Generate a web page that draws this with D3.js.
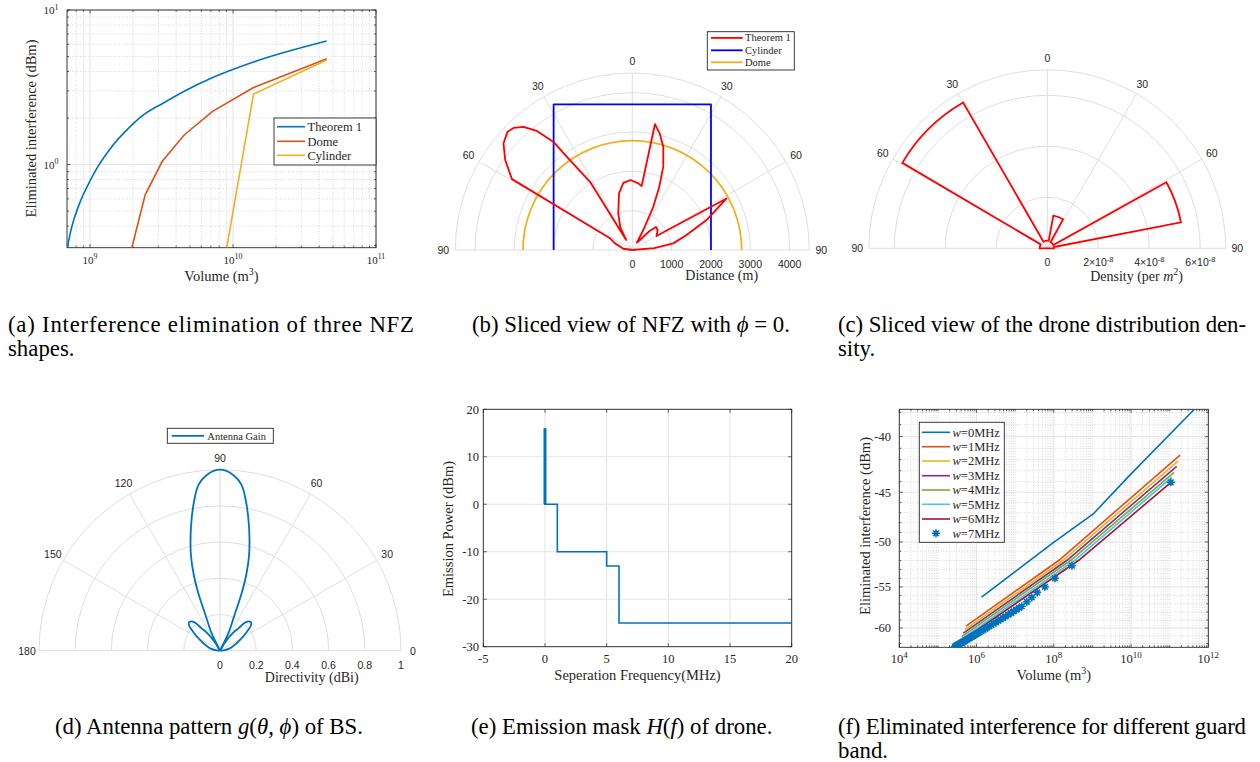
<!DOCTYPE html>
<html>
<head>
<meta charset="utf-8">
<script src="https://cdn.jsdelivr.net/npm/d3@7"></script>
<style>
  body { margin: 0; background: #fff; }
  text { font-family: 'Liberation Serif', 'Times New Roman', serif; fill: #262626; }
  text.sans { font-family: 'Liberation Sans', Arial, sans-serif; }
  text.cap { fill: #000; }
</style>
</head>
<body>
<svg id="fig" width="1260" height="762" font-family="Liberation Serif"></svg>
<script>
// ---------------- data ----------------
// (a) interference elimination of three NFZ shapes
const aThmVol = [6.93e8, 7.42e8, 8.37e8, 1e9, 1.11e9, 1.38e9, 1.9e9, 2.36e9, 3.26e9, 4.74e9, 7.28e9, 1.39e10, 4.52e10];
const aThmVal = [0.29, 0.39, 0.549, 0.784, 0.938, 1.263, 1.753, 2.096, 2.505, 3.04, 3.67, 4.61, 6.3];
const aDomeVol = [1.96e9, 2.43e9, 3.2e9, 4.57e9, 7.16e9, 1.39e10, 4.52e10];
const aDomeVal = [0.29, 0.637, 1.05, 1.56, 2.2, 3.15, 4.84];
const aCylVol = [9.04e9, 1.39e10, 4.52e10];
const aCylVal = [0.29, 2.86, 4.75];
const aXTicks = [1e9, 1e10, 1e11];
const aYTicks = [1, 10];

// (b) sliced view of NFZ, theta from zenith (deg), distance (m)
const bThmTheta = [-90, -82, -69, -62.4, -59.5, -54.7, -50.4, -46.6, -44.2, -41.5, -38.7, -36.1, -35.1, -31.8, -31.3, -28,
  -20.9, -13.2, -7.6, -1.4, 5.1, 8.3, 10.2, 13.3, 16.7, 20.4, 23.1, 25.9, 28.8, 32, 37.5, 42.4, 46, 51.7, 60.1, 61.3,
  63.2, 68, 74.6, 80.8, 85, 90];
const bThmR = [0, 230, 470, 640, 3550, 3960, 4250, 4370, 4330, 4180, 3880, 3400, 2900, 2040, 300, 650,
  1000, 1480, 1720, 1780, 1700, 1640, 3250, 3040, 2740, 2260, 1750, 1220, 580, 220, 320, 665, 840, 820, 710, 2730,
  2490, 2035, 1430, 1054, 560, 0];
const bCylTheta = [-90, -28.4, 28.4, 90];
const bCylR = [2000, 4206, 4206, 2000];
const bDomeR = 2780;
const bRTicks = [0, 1000, 2000, 3000, 4000];
const bThetaTicks = [-90, -60, -30, 0, 30, 60, 90];

// (c) drone distribution density (stairs histogram)
const cEdges = [-90, -59.5, -30, 10.5, 28.5, 61, 79, 90];
const cDens = [3.0e-9, 6.6e-8, 3.0e-9, 1.3e-8, 2.7e-9, 5.34e-8, 2.6e-9];
const cRTicks = [0, 2e-8, 4e-8, 6e-8];

// (d) antenna pattern
const dTheta = [0, 5, 13, 20, 28.1, 36.2, 40, 43.5, 47.4, 50.6, 54, 58, 62,
  64.4, 68, 69.3, 71, 73.2, 76.7, 79.7, 82.6, 85.7, 90,
  94.3, 97.4, 100.3, 103.3, 106.8, 109, 110.7, 112, 115.6, 118,
  122, 126, 129.4, 132.6, 136.5, 140, 143.8, 151.9, 160, 167, 175, 180];
const dGain = [0, 0.02, 0.056, 0.08, 0.124, 0.192, 0.225, 0.232, 0.216, 0.16, 0.12, 0.06, 0,
  0.105, 0.22, 0.336, 0.448, 0.557, 0.698, 0.82, 0.924, 0.974, 1.0,
  0.974, 0.924, 0.82, 0.698, 0.557, 0.448, 0.336, 0.22, 0.105, 0,
  0.06, 0.12, 0.16, 0.216, 0.232, 0.225, 0.192, 0.124, 0.08, 0.056, 0.02, 0];
const dRTicks = [0, 0.2, 0.4, 0.6, 0.8, 1];
const dThetaTicks = [0, 30, 60, 90, 120, 150, 180];

// (e) emission mask
const eFreq = [0, 0, 1, 1, 5, 5, 6, 6, 20];
const ePow = [16, 0, 0, -10, -10, -13, -13, -25, -25];
const eXTicks = [-5, 0, 5, 10, 15, 20];
const eYTicks = [20, 10, 0, -10, -20, -30];

// (f) eliminated interference for different guard bands
const fNames = ["0", "1", "2", "3", "4", "5", "6", "7"];
const fVol = [
  [1.35e6, 9.7e7, 1.05e9, 9.3e9, 4.3e11],
  [5.33e5, 1.39e8, 1.86e11],
  [5.0e5, 1.77e8, 1.68e11],
  [4.55e5, 2.24e8, 1.52e11],
  [4.13e5, 2.8e8, 1.3e11],
  [3.73e5, 3.56e8, 1.13e11],
  [3.31e5, 4.51e8, 1.02e11],
  [2.75e5, 2.95e5, 3.16e5, 3.39e5, 3.63e5, 3.89e5, 4.17e5, 4.47e5, 4.79e5, 5.25e5, 5.75e5, 6.31e5, 6.92e5,
   7.59e5, 8.32e5, 9.12e5, 1.0e6, 1.10e6, 1.20e6, 1.35e6, 1.51e6, 1.70e6, 1.91e6, 2.14e6, 2.40e6, 2.75e6,
   3.16e6, 3.63e6, 4.17e6, 4.79e6, 5.62e6, 6.61e6, 7.76e6, 9.12e6, 1.07e7, 1.26e7, 1.48e7, 2.0e7, 2.69e7,
   3.72e7, 5.89e7, 1.07e8, 2.95e8, 1.07e11]
];
const fInt = [
  [-56.2, -50.06, -47.12, -43.4, -37.77],
  [-59.75, -51.95, -41.6],
  [-60.2, -51.95, -42.1],
  [-60.65, -51.95, -42.6],
  [-61.1, -51.95, -43.15],
  [-61.55, -51.95, -43.6],
  [-61.95, -51.95, -44.15],
  [-62.4, -62.31, -62.22, -62.13, -62.05, -61.96, -61.87, -61.78, -61.69, -61.57, -61.46, -61.34, -61.22,
   -61.1, -60.98, -60.87, -60.75, -60.63, -60.51, -60.36, -60.22, -60.07, -59.92, -59.77, -59.63, -59.45,
   -59.27, -59.1, -58.92, -58.74, -58.54, -58.33, -58.12, -57.92, -57.71, -57.5, -57.3, -56.75, -56.23,
   -55.64, -54.98, -54.0, -52.58, -44.07]
];
const fXTicks = [1e4, 1e6, 1e8, 1e10, 1e12];
const fYTicks = [-40, -45, -50, -55, -60];

// ---------------- style ----------------
const BLUE = "#0072BD", ORANGE = "#D95319", YELLOW = "#EDB120", PURPLE = "#7E2F8E",
  GREEN = "#77AC30", CYAN = "#4DBEEE", DARKRED = "#A2142F";
const fColors = [BLUE, ORANGE, YELLOW, PURPLE, GREEN, CYAN, DARKRED, BLUE];
const AX = "#262626", GRID = "#e3e3e3", MINOR = "#bfbfbf", PGRID = "#dadada";

const svg = d3.select("#fig");
const rad = d => d * Math.PI / 180;
const isDecade = v => Math.abs(Math.log10(v) - Math.round(Math.log10(v))) < 1e-9;

// superscript label: base text + raised part
function supLabel(t, base, sup, size) {
  t.append("tspan").text(base);
  t.append("tspan").attr("dy", -size * 0.42).attr("font-size", size * 0.72).text(sup);
}

// box axes with inward ticks on all four sides
function drawFrame(g, b, xp, yp, c) {
  const grid = (vals, horiz, stroke, dash, w) => g.append("g").selectAll("line").data(vals).join("line")
    .attr("x1", d => horiz ? b.L : xp(d)).attr("x2", d => horiz ? b.R : xp(d))
    .attr("y1", d => horiz ? yp(d) : b.T).attr("y2", d => horiz ? yp(d) : b.B)
    .attr("stroke", stroke).attr("stroke-width", w).attr("stroke-dasharray", dash);
  if (c.xMinor) grid(c.xMinor, false, MINOR, "1,1.6", 0.6);
  if (c.yMinor) grid(c.yMinor, true, MINOR, "1,1.6", 0.6);
  grid(c.xMajor, false, GRID, null, 1);
  grid(c.yMajor, true, GRID, null, 1);
  const ticks = (vals, len) => {
    const t = g.append("g").attr("stroke", AX).attr("stroke-width", 0.7);
    t.selectAll(null).data(vals).join("path")
      .attr("d", d => `M${xp(d)},${b.B}v${-len}M${xp(d)},${b.T}v${len}`);
  };
  const yticks = (vals, len) => {
    const t = g.append("g").attr("stroke", AX).attr("stroke-width", 0.7);
    t.selectAll(null).data(vals).join("path")
      .attr("d", d => `M${b.L},${yp(d)}h${len}M${b.R},${yp(d)}h${-len}`);
  };
  ticks(c.xMajor, 3.5); yticks(c.yMajor, 3.5);
  if (c.xMinor) ticks(c.xMinor, 2);
  if (c.yMinor) yticks(c.yMinor, 2);
  g.append("rect").attr("x", b.L).attr("y", b.T).attr("width", b.R - b.L).attr("height", b.B - b.T)
    .attr("fill", "none").attr("stroke", AX).attr("stroke-width", 0.9);
}

function clip(id, b) {
  svg.append("clipPath").attr("id", id).append("rect")
    .attr("x", b.L).attr("y", b.T).attr("width", b.R - b.L).attr("height", b.B - b.T);
}

function legendBox(g, x, y, w, h) {
  g.append("rect").attr("x", x).attr("y", y).attr("width", w).attr("height", h)
    .attr("fill", "#fff").attr("stroke", AX).attr("stroke-width", 0.9);
}

// ---------------- (a) ----------------
{
  const b = {L: 67, R: 376, T: 10, B: 247.7};
  const x = d3.scaleLog().domain([6.9e8, 1e11]).range([b.L, b.R]);
  const y = d3.scaleLog().domain([0.29, 10]).range([b.B, b.T]);
  const g = svg.append("g");
  drawFrame(g, b, x, y, {
    xMajor: aXTicks, yMajor: aYTicks,
    xMinor: x.ticks().filter(v => !isDecade(v)), yMinor: y.ticks().filter(v => !isDecade(v))
  });
  clip("clipA", b);
  const line = d3.line().x(d => x(d[0])).y(d => y(d[1]));
  const pg = g.append("g").attr("clip-path", "url(#clipA)").attr("fill", "none").attr("stroke-width", 1.6);
  pg.append("path").attr("d", line.curve(d3.curveMonotoneX)(d3.zip(aThmVol, aThmVal))).attr("stroke", BLUE);
  line.curve(d3.curveLinear);
  pg.append("path").attr("d", line(d3.zip(aDomeVol, aDomeVal))).attr("stroke", ORANGE);
  pg.append("path").attr("d", line(d3.zip(aCylVol, aCylVal))).attr("stroke", YELLOW);

  g.selectAll(null).data(aXTicks).join("text").attr("x", d => x(d)).attr("y", 264)
    .attr("text-anchor", "middle").attr("font-size", 11)
    .each(function (d) { supLabel(d3.select(this), "10", Math.round(Math.log10(d)), 11); });
  g.selectAll(null).data(aYTicks).join("text").attr("x", 58.5).attr("y", d => y(d) + 4.3)
    .attr("text-anchor", "end").attr("font-size", 11)
    .each(function (d) { supLabel(d3.select(this), "10", Math.round(Math.log10(d)), 11); });
  const xl = g.append("text").attr("x", 221.5).attr("y", 281).attr("text-anchor", "middle").attr("font-size", 14.5);
  xl.append("tspan").text("Volume (m");
  xl.append("tspan").attr("dy", -6).attr("font-size", 10).text("3");
  xl.append("tspan").attr("dy", 6).text(")");
  g.append("text").attr("transform", "translate(36,128.5) rotate(-90)").attr("text-anchor", "middle")
    .attr("font-size", 14.5).text("Eliminated interference (dBm)");

  legendBox(g, 274, 118, 102, 47);
  [["Theorem 1", BLUE, 126.7], ["Dome", ORANGE, 141.3], ["Cylinder", YELLOW, 155.3]].forEach(([n, c, yy]) => {
    g.append("line").attr("x1", 277).attr("x2", 305).attr("y1", yy).attr("y2", yy).attr("stroke", c).attr("stroke-width", 1.6);
    g.append("text").attr("x", 307.5).attr("y", yy + 4.2).attr("font-size", 12.5).text(n);
  });
}

// ---------------- polar helpers ----------------
// half polar grid (upper half), spoke angles given as canvas angles (radians, 0 = right, clockwise)
function polarGrid(g, r, rings, spokeAngles) {
  const R = r.range()[1];
  g.selectAll(null).data(rings).join("path")
    .attr("d", d => { const p = d3.path(); p.arc(0, 0, r(d), Math.PI, 2 * Math.PI); return p.toString(); })
    .attr("fill", "none").attr("stroke", PGRID).attr("stroke-width", 0.9);
  g.selectAll(null).data(spokeAngles).join("line")
    .attr("x1", 0).attr("y1", 0).attr("x2", a => R * Math.cos(a)).attr("y2", a => R * Math.sin(a))
    .attr("stroke", PGRID).attr("stroke-width", 0.9);
  g.append("line").attr("x1", -R).attr("x2", R).attr("y1", 0).attr("y2", 0)
    .attr("stroke", PGRID).attr("stroke-width", 0.9);
}

// ---------------- (b) ----------------
{
  const g = svg.append("g").attr("transform", "translate(632.3,250)");
  const r = d3.scaleLinear().domain([0, 4500]).range([0, 177]);
  polarGrid(g, r, [1000, 2000, 3000, 4000, 4500], [-60, -30, 0, 30, 60].map(t => rad(t - 90)));
  g.selectAll(null).data(bThetaTicks).join("text").attr("class", "sans")
    .attr("x", t => 189 * Math.sin(rad(t))).attr("y", t => -189 * Math.cos(rad(t)) + 3.8)
    .attr("text-anchor", "middle").attr("font-size", 10.5).text(t => Math.abs(t));
  g.selectAll(null).data(bRTicks).join("text").attr("class", "sans")
    .attr("x", d => r(d)).attr("y", 17.5).attr("text-anchor", "middle").attr("font-size", 10.5).text(d => d);
  g.append("text").attr("x", 89.4).attr("y", 30).attr("text-anchor", "middle").attr("font-size", 14).text("Distance (m)");

  const radial = d3.lineRadial().angle(d => rad(d[0])).radius(d => r(d[1]));
  const dome = d3.path(); dome.arc(0, 0, r(bDomeR), Math.PI, 2 * Math.PI);
  g.append("path").attr("d", dome.toString()).attr("fill", "none").attr("stroke", YELLOW).attr("stroke-width", 1.8);
  g.append("path").attr("d", radial(d3.zip(bCylTheta, bCylR))).attr("fill", "none").attr("stroke", "#0000ff")
    .attr("stroke-width", 1.8).attr("stroke-linejoin", "round");
  g.append("path").attr("d", radial(d3.zip(bThmTheta, bThmR))).attr("fill", "none").attr("stroke", "#ff0000")
    .attr("stroke-width", 1.8).attr("stroke-linejoin", "round");

  const lg = svg.append("g");
  legendBox(lg, 707.3, 31.7, 87, 38.3);
  [["Theorem 1", "#ff0000", 37.9], ["Cylinder", "#0000ff", 50.3], ["Dome", YELLOW, 62.3]].forEach(([n, c, yy]) => {
    lg.append("line").attr("x1", 711).attr("x2", 742.7).attr("y1", yy).attr("y2", yy).attr("stroke", c).attr("stroke-width", 1.8);
    lg.append("text").attr("x", 745).attr("y", yy + 3.5).attr("font-size", 10.5).text(n);
  });
}

// ---------------- (c) ----------------
{
  const g = svg.append("g").attr("transform", "translate(1047.3,248.3)");
  const r = d3.scaleLinear().domain([0, 7e-8]).range([0, 178.5]);
  polarGrid(g, r, [2e-8, 4e-8, 6e-8, 7e-8], [-60, -30, 0, 30, 60].map(t => rad(t - 90)));
  g.selectAll(null).data(bThetaTicks).join("text").attr("class", "sans")
    .attr("x", t => 190 * Math.sin(rad(t))).attr("y", t => -190 * Math.cos(rad(t)) + 3.8)
    .attr("text-anchor", "middle").attr("font-size", 10.5).text(t => Math.abs(t));
  g.selectAll(null).data(cRTicks).join("text").attr("class", "sans")
    .attr("x", d => r(d)).attr("y", 18).attr("text-anchor", "middle").attr("font-size", 10.5)
    .each(function (d) {
      if (d === 0) { d3.select(this).text("0"); return; }
      const t = d3.select(this);
      t.append("tspan").text(`${Math.round(d / 1e-8)}\u00d710`);
      t.append("tspan").attr("dy", -4.5).attr("font-size", 7.5).text("-8");
    });
  const xl = g.append("text").attr("x", 89.3).attr("y", 33).attr("text-anchor", "middle").attr("font-size", 14);
  xl.append("tspan").text("Density (per ");
  xl.append("tspan").attr("font-style", "italic").text("m");
  xl.append("tspan").attr("dy", -6).attr("font-size", 10).text("2");
  xl.append("tspan").attr("dy", 6).text(")");

  const ang = t => rad(t - 90);
  const p = d3.path();
  p.moveTo(0, 0);
  cDens.forEach((v, i) => {
    const rr = r(v), a0 = ang(cEdges[i]), a1 = ang(cEdges[i + 1]);
    p.lineTo(rr * Math.cos(a0), rr * Math.sin(a0));
    p.arc(0, 0, rr, a0, a1);
  });
  p.lineTo(0, 0);
  g.append("path").attr("d", p.toString()).attr("fill", "none").attr("stroke", "#ff0000")
    .attr("stroke-width", 1.8).attr("stroke-linejoin", "miter");
}

// ---------------- (d) ----------------
{
  const g = svg.append("g").attr("transform", "translate(220,650.7)");
  const r = d3.scaleLinear().domain([0, 1]).range([0, 181]);
  polarGrid(g, r, [0.2, 0.4, 0.6, 0.8, 1], [30, 60, 90, 120, 150].map(t => -rad(t)));
  g.selectAll(null).data(dThetaTicks).join("text").attr("class", "sans")
    .attr("x", t => 193 * Math.cos(rad(t))).attr("y", t => -193 * Math.sin(rad(t)) + 3.8)
    .attr("text-anchor", "middle").attr("font-size", 10.5).text(t => t);
  g.selectAll(null).data(dRTicks).join("text").attr("class", "sans")
    .attr("x", d => r(d)).attr("y", 18.5).attr("text-anchor", "middle").attr("font-size", 10.5).text(d => d);
  g.append("text").attr("x", 91.7).attr("y", 31.3).attr("text-anchor", "middle").attr("font-size", 14).text("Directivity (dBi)");

  const radial = d3.lineRadial().angle(d => rad(90 - d[0])).radius(d => r(d[1])).curve(d3.curveCatmullRomClosed.alpha(0.5));
  g.append("path").attr("d", radial(d3.zip(dTheta, dGain))).attr("fill", "none").attr("stroke", BLUE)
    .attr("stroke-width", 1.8);

  const lg = svg.append("g");
  legendBox(lg, 167.3, 428.3, 106, 15);
  lg.append("line").attr("x1", 171.7).attr("x2", 204).attr("y1", 435.8).attr("y2", 435.8).attr("stroke", BLUE).attr("stroke-width", 1.8);
  lg.append("text").attr("x", 207.3).attr("y", 439.5).attr("font-size", 10.5).text("Antenna Gain");
}

// ---------------- (e) ----------------
{
  const b = {L: 483.3, R: 791.7, T: 409.3, B: 646.7};
  const x = d3.scaleLinear().domain([-5, 20]).range([b.L, b.R]);
  const y = d3.scaleLinear().domain([-30, 20]).range([b.B, b.T]);
  const g = svg.append("g");
  drawFrame(g, b, x, y, {xMajor: eXTicks, yMajor: eYTicks});
  const pts = d3.zip(eFreq, ePow);
  const line = d3.line().x(d => x(d[0])).y(d => y(d[1]));
  g.append("path").attr("d", line(pts)).attr("fill", "none").attr("stroke", BLUE).attr("stroke-width", 1.6);
  g.append("path").attr("d", line(pts.slice(0, 2))).attr("fill", "none").attr("stroke", BLUE).attr("stroke-width", 3);
  g.selectAll(null).data(eXTicks).join("text").attr("x", d => x(d)).attr("y", 662.5)
    .attr("text-anchor", "middle").attr("font-size", 12.5).text(d => d);
  g.selectAll(null).data(eYTicks).join("text").attr("x", 479).attr("y", d => y(d) + 4.3)
    .attr("text-anchor", "end").attr("font-size", 12.5).text(d => d);
  g.append("text").attr("x", 637.5).attr("y", 680).attr("text-anchor", "middle").attr("font-size", 14.5)
    .text("Seperation Frequency(MHz)");
  g.append("text").attr("transform", "translate(453,529) rotate(-90)").attr("text-anchor", "middle")
    .attr("font-size", 14.5).text("Emission Power (dBm)");
}

// ---------------- (f) ----------------
{
  const b = {L: 899.3, R: 1208.3, T: 409.3, B: 647.3};
  const x = d3.scaleLog().domain([1e4, 1e12]).range([b.L, b.R]);
  const yMag = d3.scaleLog().domain([37.75, 62.5]).range([b.T, b.B]);
  const y = v => yMag(-v);
  const g = svg.append("g");
  drawFrame(g, b, x, y, {
    xMajor: fXTicks, yMajor: fYTicks,
    xMinor: x.ticks().filter(v => !fXTicks.some(t => Math.abs(v / t - 1) < 1e-9)),
    yMinor: d3.range(-62, -37).filter(v => v % 5 !== 0)
  });
  clip("clipF", b);
  const line = d3.line().x(d => x(d[0])).y(d => y(d[1]));
  const pg = g.append("g").attr("clip-path", "url(#clipF)");
  const asterisk = {
    draw(ctx, size) {
      const rr = Math.sqrt(size) / 2;
      for (let k = 0; k < 4; k++) {
        const a = k * Math.PI / 4;
        ctx.moveTo(rr * Math.cos(a), rr * Math.sin(a));
        ctx.lineTo(-rr * Math.cos(a), -rr * Math.sin(a));
      }
    }
  };
  const star = d3.symbol(asterisk, 64);
  for (let i = 0; i < 7; i++) {
    pg.append("path").attr("d", line(d3.zip(fVol[i], fInt[i]))).attr("fill", "none")
      .attr("stroke", fColors[i]).attr("stroke-width", 1.6);
  }
  pg.selectAll(null).data(d3.zip(fVol[7], fInt[7])).join("path")
    .attr("transform", d => `translate(${x(d[0])},${y(d[1])})`).attr("d", star)
    .attr("fill", "none").attr("stroke", BLUE).attr("stroke-width", 1.6);

  g.selectAll(null).data(fXTicks).join("text").attr("x", d => x(d)).attr("y", 663)
    .attr("text-anchor", "middle").attr("font-size", 12.5)
    .each(function (d) { supLabel(d3.select(this), "10", Math.round(Math.log10(d)), 12.5); });
  g.selectAll(null).data(fYTicks).join("text").attr("x", 891).attr("y", d => y(d) + 4.3)
    .attr("text-anchor", "end").attr("font-size", 12.5).text(d => d);
  const xl = g.append("text").attr("x", 1053.8).attr("y", 680).attr("text-anchor", "middle").attr("font-size", 14.5);
  xl.append("tspan").text("Volume (m");
  xl.append("tspan").attr("dy", -6).attr("font-size", 10).text("3");
  xl.append("tspan").attr("dy", 6).text(")");
  g.append("text").attr("transform", "translate(870,526) rotate(-90)").attr("text-anchor", "middle")
    .attr("font-size", 14.5).text("Eliminated interference (dBm)");

  legendBox(g, 919.3, 422.3, 85, 120);
  const ly = [432.3, 446.7, 461, 475.7, 490, 504.3, 519, 533.3];
  fNames.forEach((n, i) => {
    if (i < 7) {
      g.append("line").attr("x1", 922).attr("x2", 950).attr("y1", ly[i]).attr("y2", ly[i])
        .attr("stroke", fColors[i]).attr("stroke-width", 1.6);
    } else {
      g.append("path").attr("transform", `translate(936,${ly[i]})`).attr("d", star)
        .attr("fill", "none").attr("stroke", BLUE).attr("stroke-width", 1.6);
    }
    const t = g.append("text").attr("x", 952.5).attr("y", ly[i] + 4.3).attr("font-size", 12.5);
    t.append("tspan").attr("font-style", "italic").text("w");
    t.append("tspan").text(`=${n}MHz`);
  });
}

// ---------------- captions ----------------
function caption(x, y, parts, len) {
  const t = svg.append("text").attr("class", "cap").attr("x", x).attr("y", y).attr("font-size", 22.8);
  parts.forEach(p => {
    const s = t.append("tspan").text(typeof p === "string" ? p : p.it);
    if (typeof p !== "string") s.attr("font-style", "italic");
  });
  if (len) t.attr("textLength", len).attr("lengthAdjust", "spacing");
}
caption(8, 332, ["(a) Interference elimination of three NFZ"], 406);
caption(8, 356, ["shapes."]);
caption(472, 332, ["(b) Sliced view of NFZ with ", {it: "\u03d5"}, " = 0."]);
caption(838, 332, ["(c) Sliced view of the drone distribution den-"], 408);
caption(838, 356, ["sity."]);
caption(55, 734, ["(d) Antenna pattern ", {it: "g"}, "(", {it: "\u03b8"}, ", ", {it: "\u03d5"}, ") of BS."]);
caption(471, 734, ["(e) Emission mask ", {it: "H"}, "(", {it: "f"}, ") of drone."]);
caption(838, 734, ["(f) Eliminated interference for different guard"], 408);
caption(838, 758, ["band."]);
</script>
</body>
</html>
